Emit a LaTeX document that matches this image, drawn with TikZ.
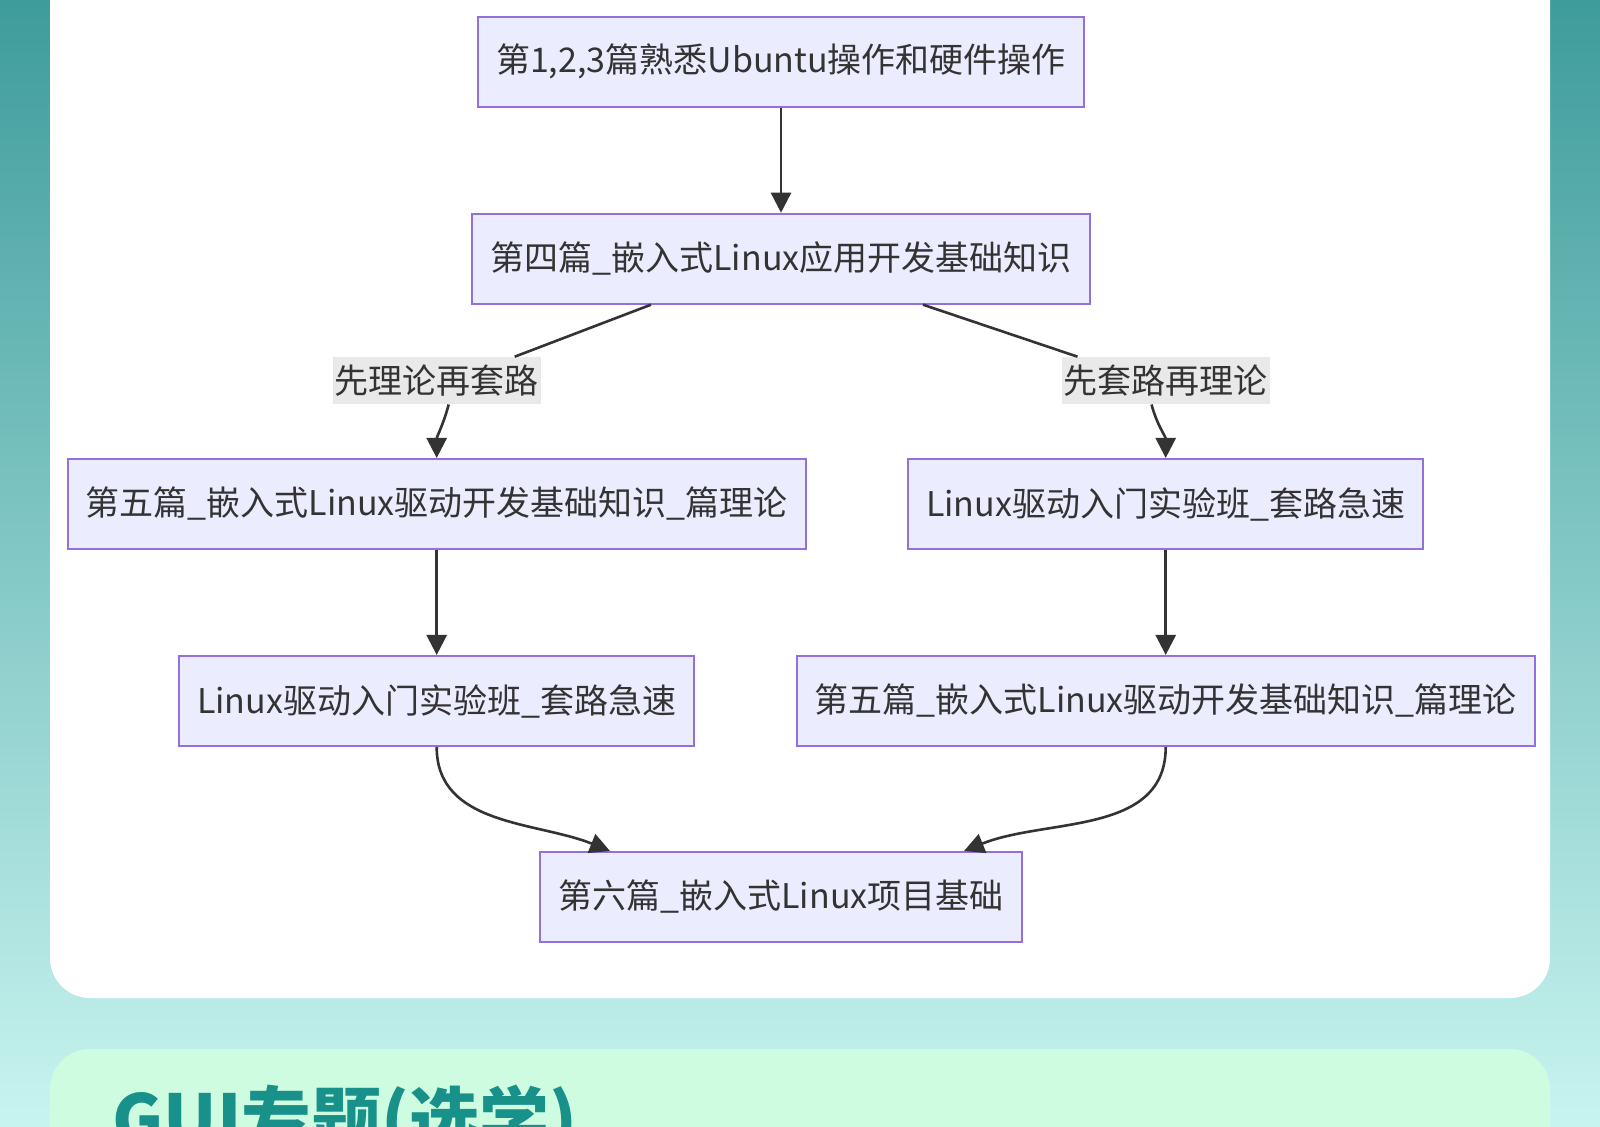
\documentclass[tikz,border=0pt]{standalone}
\usepackage{fontspec}
\usepackage{tikz}
\usetikzlibrary{arrows.meta,positioning}
\newfontfamily\cjk{Noto Sans CJK SC}
\definecolor{nodefill}{HTML}{ECECFF}
\definecolor{nodeline}{HTML}{9370DB}
\definecolor{ink}{HTML}{333333}
\definecolor{tagfill}{HTML}{E9E9E9}
\definecolor{bgtop}{HTML}{3E9C9B}
\definecolor{bgmid}{HTML}{A3DCD8}
\definecolor{bgbot}{HTML}{C8F4F0}
\definecolor{cardgreen}{HTML}{CEFCE0}
\definecolor{titleteal}{HTML}{17918A}

\begin{document}
\begin{tikzpicture}[x=0.5pt,y=-0.5pt,
    node distance=52.5pt,
    box/.style={draw=nodeline,line width=1pt,fill=nodefill,minimum height=45pt,
                inner xsep=9pt,text=ink,font=\cjk\fontsize{17}{20}\selectfont},
    tag/.style={fill=tagfill,text=ink,minimum height=23.5pt,inner xsep=1pt,
                font=\cjk\fontsize{17}{20}\selectfont},
    line/.style={line width=1.3pt,draw=ink},
    arrow/.style={-{Triangle[length=10pt,width=10pt]},line width=1.3pt,draw=ink}
  ]
    \useasboundingbox (0,0) rectangle (1600,1127);
    \clip (0,0) rectangle (1600,1127);
    \shade[top color=bgtop,middle color=bgmid,bottom color=bgbot] (0,0) rectangle (1600,1127);
    \fill[white,rounded corners=20pt] (50,-60) rectangle (1550,998);
    \fill[cardgreen,rounded corners=20pt] (50,1049) rectangle (1550,1220);
    \node[anchor=base west,inner sep=0pt,text=titleteal,font=\cjk\bfseries\fontsize{35}{40}\selectfont]
          (gui) at (112,1145) {GUI专题(选学)};

    \node[box] (q1) at (781,61.7) {第1,2,3篇熟悉Ubuntu操作和硬件操作};
    \node[box,below=of q1] (q2) {第四篇\_嵌入式Linux应用开发基础知识};
    \node[tag] (t1) at (436.7,380.6) {先理论再套路};
    \node[tag] (t2) at (1165.5,380.6) {先套路再理论};
    \node[box] (q3) at (436.7,504) {第五篇\_嵌入式Linux驱动开发基础知识\_篇理论};
    \node[box] (q4) at (1165.7,504) {Linux驱动入门实验班\_套路急速};
    \node[box,below=of q3] (q5) {Linux驱动入门实验班\_套路急速};
    \node[box,below=of q4] (q6) {第五篇\_嵌入式Linux驱动开发基础知识\_篇理论};
    \node[box] (q7) at (781,897) {第六篇\_嵌入式Linux项目基础};

    \draw[arrow] (q1) -- (q2);
    \draw[line] ([xshift=-65pt]q2.south) -- ([xshift=39pt]t1.north);
    \draw[arrow] ([xshift=6pt]t1.south) to[out=-105,in=90] (q3.north);
    \draw[line] ([xshift=71pt]q2.south) -- ([xshift=-44pt]t2.north);
    \draw[arrow] ([xshift=-7pt]t2.south) to[out=-75,in=90] (q4.north);
    \draw[arrow] (q3) -- (q5);
    \draw[arrow] (q4) -- (q6);
    \draw[arrow] (q5.south) to[out=-90,in=158] ([xshift=-85.5pt]q7.north);
    \draw[arrow] (q6.south) to[out=-90,in=22] ([xshift=91.5pt]q7.north);
  \end{tikzpicture}
\end{document}
